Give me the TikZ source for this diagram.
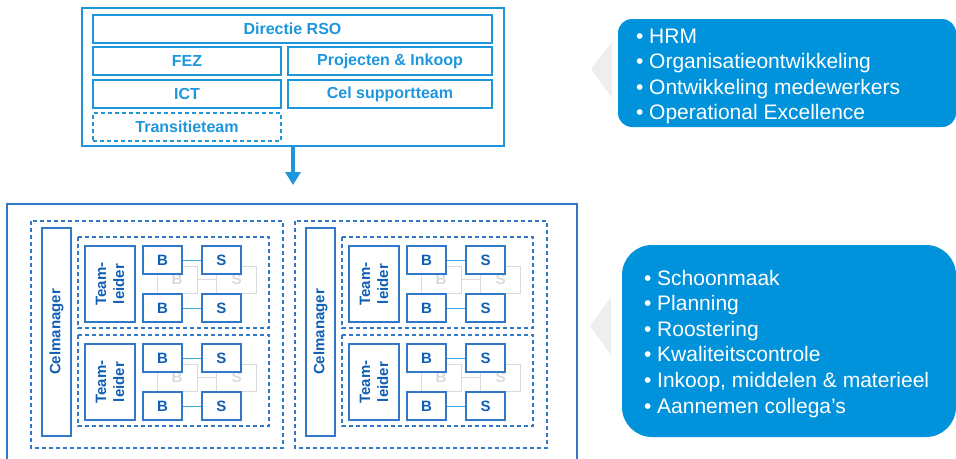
\documentclass[tikz,border=0pt]{standalone}
\usepackage{fontspec}
\setmainfont{Liberation Sans}
\usetikzlibrary{arrows.meta}

\definecolor{rsoblue}{RGB}{30,150,220}
\definecolor{celblue}{RGB}{50,120,200}
\definecolor{bsblue}{RGB}{15,95,180}
\definecolor{linkblue}{RGB}{60,170,230}
\definecolor{ghost}{RGB}{218,218,218}
\definecolor{bubble}{RGB}{0,146,218}
\definecolor{pointer}{RGB}{238,238,238}

\tikzset{
  rsobox/.style={draw=rsoblue, line width=1.2pt, text=rsoblue, inner sep=0pt,
    font=\bfseries\fontsize{16}{18}\selectfont, minimum height=28pt},
  celdash/.style={draw=celblue, line width=1.2pt, dash pattern=on 4pt off 3pt},
  celtext/.style={draw=celblue, line width=1.2pt, text=bsblue, inner sep=0pt,
    font=\bfseries\fontsize{15}{18}\selectfont},
  bsbox/.style={celtext, fill=white, minimum width=39pt, minimum height=28pt},
  ghostbox/.style={draw=ghost, text=ghost, line width=0.8pt, inner sep=0pt,
    font=\bfseries\fontsize{15}{18}\selectfont, minimum width=40pt, minimum height=27pt},
  bulletline/.style={text=white, anchor=base west, inner sep=0pt,
    font=\fontsize{21}{25}\selectfont}
}

\begin{document}
\begin{tikzpicture}[x=1pt, y=-1pt]

\useasboundingbox (0,0) rectangle (956,458);
\clip (0,0) rectangle (956,458);

% directie block
\node[draw=rsoblue, line width=1.2pt, inner sep=0pt, minimum width=422pt, minimum height=138pt] (rso) at (293,77) {};
\node[rsobox, minimum width=399pt] (directie) at (292.5,29) {Directie RSO};
\node[rsobox, minimum width=188pt] (fez) at (187,61) {FEZ};
\node[rsobox, minimum width=204pt] (projecten) at (390,61) {Projecten \& Inkoop};
\node[rsobox, minimum width=188pt] (ict) at (187,94) {ICT};
\node[rsobox, minimum width=204pt] (support) at (390,94) {Cel supportteam};
\node[rsobox, dash pattern=on 4pt off 3pt, minimum width=188pt] (transitie) at (187,127) {Transitieteam};

% arrow down
\coordinate (arrowend) at (293,185);
\draw[rsoblue, line width=4pt, -{Triangle[width=15pt,length=13pt]}] (rso.south) -- (arrowend);

% outer frame of the cells
\draw[celblue, line width=1.5pt] (7,204) rectangle (577,480);

% the two cells
\foreach \c [evaluate = \c as \dx using 264*\c] in {0,1}
{
  \begin{scope}[xshift=\dx pt]
    \draw[celdash] (31,221) rectangle (283,448);
    \node[celtext, rotate=90, minimum width=208pt, minimum height=29pt] (celmanager-\c) at (56.5,332) {Celmanager};
    % two teams in every cell
    \foreach \t [evaluate = \t as \dy using 98*\t] in {0,1}
    {
      \draw[celdash] (78,{237+\dy}) rectangle (269,{328+\dy});
      \node[celtext, rotate=90, align=center, minimum width=76pt, minimum height=50pt] (leider-\c-\t) at (110,{284+\dy}) {Team-\\leider};
      % greyed pair behind
      \node[ghostbox] (gb-\c-\t) at (177,{279.5+\dy}) {B};
      \node[ghostbox] (gs-\c-\t) at (236.5,{279.5+\dy}) {S};
      \draw[ghost, line width=0.8pt] (gb-\c-\t) -- (gs-\c-\t);
      % B and S pairs
      \node[bsbox] (ba-\c-\t) at (162.5,{260+\dy}) {B};
      \node[bsbox] (sa-\c-\t) at (221.5,{260+\dy}) {S};
      \node[bsbox] (bb-\c-\t) at (162.5,{308+\dy}) {B};
      \node[bsbox] (sb-\c-\t) at (221.5,{308+\dy}) {S};
      \draw[linkblue, line width=1pt] (ba-\c-\t) -- (sa-\c-\t);
      \draw[linkblue, line width=1pt] (bb-\c-\t) -- (sb-\c-\t);
    }
  \end{scope}
}

% pointers
\fill[pointer] (591,69) -- (612,42) -- (612,98) -- cycle;
\fill[pointer] (590,326) -- (611,297) -- (611,355) -- cycle;

% bubbles
\node[fill=bubble, rounded corners=14pt, inner sep=0pt, minimum width=338pt, minimum height=108pt] (topbubble) at (787,73) {};
\node[fill=bubble, rounded corners=30pt, inner sep=0pt, minimum width=334pt, minimum height=192pt] (celbubble) at (789,341) {};

\foreach \line [count=\i] in {HRM, Organisatieontwikkeling, Ontwikkeling medewerkers, Operational Excellence}
  \node[bulletline] (top-\i) at (636,{43+25.5*(\i-1)}) {\makebox[13pt][l]{\textbullet}\line};

\foreach \line [count=\i] in {Schoonmaak, Planning, Roostering, Kwaliteitscontrole, {Inkoop, middelen \& materieel}, Aannemen collega’s}
  \node[bulletline] (cel-\i) at (644,{285+25.6*(\i-1)}) {\makebox[13pt][l]{\textbullet}\line};

\end{tikzpicture}
\end{document}
